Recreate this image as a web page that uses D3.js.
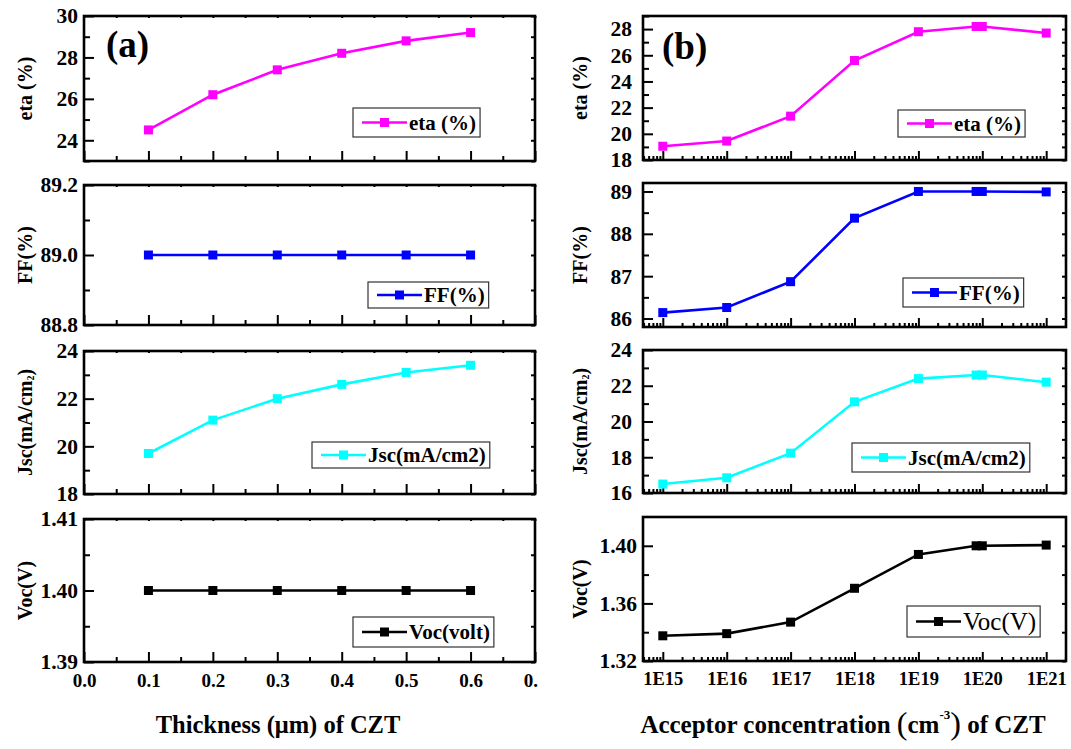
<!DOCTYPE html>
<html><head><meta charset="utf-8">
<script src="https://cdn.jsdelivr.net/npm/d3@7"></script>
<style>
body{margin:0;background:#fff;}
svg text{font-family:"Liberation Serif","Times New Roman",serif;}
</style></head><body>
<svg id="chart" width="1071" height="749"></svg>
<script>
// ---------- data ----------
const thickness = [0.1, 0.2, 0.3, 0.4, 0.5, 0.6];
const etaA = [24.5, 26.2, 27.4, 28.2, 28.8, 29.2];
const ffA  = [89.0, 89.0, 89.0, 89.0, 89.0, 89.0];
const jscA = [19.7, 21.1, 22.0, 22.6, 23.1, 23.4];
const vocA = [1.40, 1.40, 1.40, 1.40, 1.40, 1.40];

const acceptor = [1e15, 1e16, 1e17, 1e18, 1e19, 8e19, 1e20, 1e21];
const etaB = [19.05, 19.45, 21.35, 25.6, 27.8, 28.2, 28.2, 27.7];
const ffB  = [86.14, 86.26, 86.87, 88.37, 89.0, 89.0, 89.0, 88.99];
const jscB = [16.5, 16.85, 18.23, 21.1, 22.4, 22.6, 22.6, 22.2];
const vocB = [1.3375, 1.339, 1.347, 1.3705, 1.394, 1.400, 1.400, 1.4005];

const xTicksA = [0, 0.1, 0.2, 0.3, 0.4, 0.5, 0.6, 0.7];
const xMinorA = [0.05, 0.15, 0.25, 0.35, 0.45, 0.55, 0.65];
const xTicksB = [1e15, 1e16, 1e17, 1e18, 1e19, 1e20, 1e21];
const xLabelsB = ["1E15", "1E16", "1E17", "1E18", "1E19", "1E20", "1E21"];

const legendA = ["eta (%)", "FF(%)", "Jsc(mA/cm2)", "Voc(volt)"];
const legendB = ["eta (%)", "FF(%)", "Jsc(mA/cm2)", "Voc(V)"];
const yTitles = ["eta (%)", "FF(%)", "Jsc(mA/cm", "Voc(V)"];
const colors = ["#ff00ff", "#0000ff", "#00ffff", "#000000"];

// ---------- layout ----------
const svg = d3.select("#chart");
const xA = d3.scaleLinear().domain([0, 0.7]).range([84, 535]);
const xB = d3.scaleLog().domain([Math.pow(10, 14.69), Math.pow(10, 21.31)]).range([643, 1066]);

svg.append("defs").append("clipPath").attr("id", "clipA")
  .append("rect").attr("x", 0).attr("y", 0).attr("width", 538).attr("height", 749);

const panelsA = [
  {vals: etaA, dom: [23, 30], y0: 16, y1: 161, major: [24, 26, 28, 30], minor: [23, 25, 27, 29], fmt: "d", leg: [353, 108, 29]},
  {vals: ffA, dom: [88.8, 89.2], y0: 185, y1: 325, major: [88.8, 89.0, 89.2], minor: [88.9, 89.1], fmt: ".1f", leg: [368, 282, 26]},
  {vals: jscA, dom: [18, 24], y0: 351, y1: 494, major: [18, 20, 22, 24], minor: [19, 21, 23], fmt: "d", leg: [312, 442, 26]},
  {vals: vocA, dom: [1.39, 1.41], y0: 519, y1: 662, major: [1.39, 1.40, 1.41], minor: [1.395, 1.405], fmt: ".2f", leg: [353, 617, 30]}
];
const panelsB = [
  {vals: etaB, dom: [18, 29], y0: 16, y1: 160, major: [18, 20, 22, 24, 26, 28], minor: [19, 21, 23, 25, 27, 29], fmt: "d", leg: [898, 110, 27], pad: 11},
  {vals: ffB, dom: [85.8, 89.2], y0: 183, y1: 327, major: [86, 87, 88, 89], minor: [86.5, 87.5, 88.5], fmt: "d", leg: [903, 278, 29], pad: 11},
  {vals: jscB, dom: [16, 24], y0: 350, y1: 493, major: [16, 18, 20, 22, 24], minor: [17, 19, 21, 23], fmt: "d", leg: [852, 443, 29], pad: 11},
  {vals: vocB, dom: [1.32, 1.42], y0: 517, y1: 661, major: [1.32, 1.36, 1.40], minor: [1.34, 1.38], fmt: ".2f", leg: [907, 606, 31], pad: 6}
];

function styleAxis(sel, fs) {
  sel.select(".domain").remove();
  sel.selectAll(".tick line").attr("stroke", "#000").attr("stroke-width", 2);
  sel.selectAll(".tick text").attr("fill", "#000").attr("font-size", fs).attr("font-weight", "bold")
     .style("font-family", "'Liberation Serif', serif");
}

function drawPanel(root, p, i, side) {
  const x = side === "A" ? xA : xB;
  const xs = x.range();
  const y = d3.scaleLinear().domain(p.dom).range([p.y1, p.y0]);
  const g = root.append("g");
  const last = i === 3;
  if (side === "A") {
    const ax = g.append("g").attr("transform", `translate(0,${p.y1})`)
      .call(d3.axisBottom(x).tickValues(xTicksA).tickSize(-10).tickPadding(last ? 12 : 3)
        .tickFormat(last ? d3.format(".1f") : ""));
    styleAxis(ax, 19);
    const axm = g.append("g").attr("transform", `translate(0,${p.y1})`)
      .call(d3.axisBottom(x).tickValues(xMinorA).tickSize(-5).tickFormat(""));
    styleAxis(axm, 19);
    const axt = g.append("g").attr("transform", `translate(0,${p.y0})`)
      .call(d3.axisTop(x).tickValues(xTicksA.concat(xMinorA)).tickSize(-2).tickFormat(""));
    styleAxis(axt, 19);
  } else {
    const ax = g.append("g").attr("transform", `translate(0,${p.y1})`)
      .call(d3.axisBottom(x).tickValues(xTicksB).tickSize(-9).tickPadding(last ? 11 : 3)
        .tickFormat((d, k) => last ? xLabelsB[k] : ""));
    styleAxis(ax, 18.5);
    const minors = [];
    for (let e = 14; e <= 21; e++) for (let m = 2; m <= 9; m++) {
      const v = m * Math.pow(10, e);
      if (v > x.domain()[0] && v < x.domain()[1]) minors.push(v);
    }
    const axm = g.append("g").attr("transform", `translate(0,${p.y1})`)
      .call(d3.axisBottom(x).tickValues(minors).tickSize(-4).tickFormat(""));
    styleAxis(axm, 18);
  }
  const ay = g.append("g").attr("transform", `translate(${xs[0]},0)`)
    .call(d3.axisLeft(y).tickValues(p.major).tickSize(-10).tickPadding(p.pad || 6).tickFormat(d3.format(p.fmt)));
  styleAxis(ay, 21.5);
  const aym = g.append("g").attr("transform", `translate(${xs[0]},0)`)
    .call(d3.axisLeft(y).tickValues(p.minor).tickSize(-6).tickFormat(""));
  styleAxis(aym, 21);
  const ayr = g.append("g").attr("transform", `translate(${xs[1]},0)`)
    .call(d3.axisRight(y).tickValues(p.major.concat(p.minor)).tickSize(-4).tickFormat(""));
  styleAxis(ayr, 21);
  g.append("rect").attr("x", xs[0]).attr("y", p.y0).attr("width", xs[1] - xs[0]).attr("height", p.y1 - p.y0)
    .attr("fill", "none").attr("stroke", "#000").attr("stroke-width", 2.6);
  const xv = side === "A" ? thickness : acceptor;
  const pts = xv.map((d, k) => [x(d), y(p.vals[k])]);
  g.append("path").attr("d", d3.line()(pts)).attr("fill", "none").attr("stroke", colors[i]).attr("stroke-width", 2.6);
  g.selectAll("rect.mk").data(pts).join("rect").attr("class", "mk")
    .attr("x", d => d[0] - 4.5).attr("y", d => d[1] - 4.5).attr("width", 9).attr("height", 9).attr("fill", colors[i]);
  // legend
  const [lx, ly, lh] = p.leg;
  const lg = g.append("g");
  const box = lg.append("rect").attr("x", lx).attr("y", ly).attr("height", lh)
    .attr("fill", "#fff").attr("stroke", "#333").attr("stroke-width", 1.2);
  const cy = ly + lh / 2;
  lg.append("line").attr("x1", lx + 9).attr("x2", lx + 54).attr("y1", cy).attr("y2", cy)
    .attr("stroke", colors[i]).attr("stroke-width", 2.6);
  lg.append("rect").attr("x", lx + 31.5 - 4.5).attr("y", cy - 4.5).attr("width", 9).attr("height", 9).attr("fill", colors[i]);
  const isVocB = side === "B" && i === 3;
  const lt = lg.append("text").attr("x", lx + 56).attr("y", cy + (isVocB ? 8.5 : 7))
    .attr("font-size", isVocB ? 25 : 21).attr("font-weight", isVocB ? "normal" : "bold")
    .text(side === "A" ? legendA[i] : legendB[i]);
  const w = lt.node().getComputedTextLength();
  box.attr("width", 56 + w + 4);
  // y title
  const tx = side === "A" ? 32 : 587;
  const yt = g.append("text").attr("transform", `translate(${tx},${(p.y0 + p.y1) / 2}) rotate(-90)`)
    .attr("text-anchor", "middle").attr("font-size", 20).attr("font-weight", "bold");
  yt.append("tspan").text(yTitles[i]);
  if (i === 2) {
    yt.append("tspan").attr("font-size", 10).attr("dy", 2).text("2");
    yt.append("tspan").attr("dy", -2).text(")");
  }
}

const gA = svg.append("g").attr("clip-path", "url(#clipA)");
panelsA.forEach((p, i) => drawPanel(gA, p, i, "A"));
const gB = svg.append("g");
panelsB.forEach((p, i) => drawPanel(gB, p, i, "B"));

svg.append("text").attr("x", 106).attr("y", 57).attr("font-size", 37).attr("font-weight", "bold").text("(a)");
svg.append("text").attr("x", 662).attr("y", 59).attr("font-size", 37).attr("font-weight", "bold").text("(b)");

svg.append("text").attr("x", 278).attr("y", 733).attr("text-anchor", "middle")
  .attr("font-size", 24.5).attr("font-weight", "bold").text("Thickness (\u03bcm) of CZT");
const xt = svg.append("text").attr("x", 843).attr("y", 733).attr("text-anchor", "middle")
  .attr("font-size", 25).attr("font-weight", "bold");
xt.append("tspan").text("Acceptor concentration ");
xt.append("tspan").attr("font-size", 32).attr("font-weight", "normal").attr("dy", 1).text("(");
xt.append("tspan").attr("dy", -1).text("cm");
xt.append("tspan").attr("font-size", 13).attr("dy", -14).text("-3");
xt.append("tspan").attr("font-size", 32).attr("font-weight", "normal").attr("dy", 15).text(")");
xt.append("tspan").attr("dy", -1).text(" of CZT");
</script>
</body></html>
